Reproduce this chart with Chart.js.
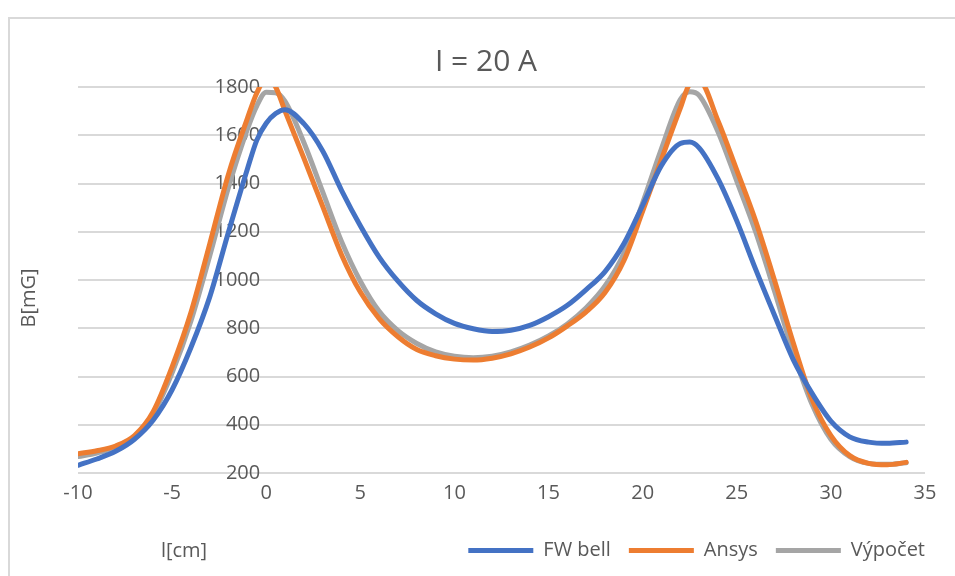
<!DOCTYPE html>
<html>
<head>
<meta charset="utf-8">
<script src="https://cdn.jsdelivr.net/npm/chart.js"></script>
<style>
  body { margin: 0; background: #fff; overflow: hidden; }
  #frame { position: absolute; left: 8px; top: 17px; width: 1000px; height: 700px; border: 2px solid #d9d9d9; }
  #wrap { position: absolute; left: 0; top: 0; width: 955px; height: 576px; }
</style>
</head>
<body>
<div id="frame"></div>
<div id="wrap"><canvas id="myChart" width="955" height="576"></canvas></div>
<script>
// l [cm]
var xs = [-10, -9, -8, -7, -6, -5, -4, -3, -2, -1, -0.5, 0, 0.5, 1, 2, 3, 4, 5, 6, 7, 8, 9, 10,
  11, 12, 13, 14, 15, 16, 17, 18, 19, 20, 21, 22, 22.5, 23, 24, 25, 26, 27, 28, 29, 30, 31, 32, 33, 34];

// B [mG]
var fwBell = [232, 258, 290, 340, 420, 545, 720, 930, 1200, 1460, 1580, 1650, 1690, 1706, 1648, 1535, 1372, 1225, 1095, 995, 915, 860, 820,
  798, 787, 792, 812, 848, 895, 960, 1035, 1150, 1310, 1475, 1566, 1572, 1548, 1420, 1245, 1045, 855, 670, 530, 415, 350, 328, 323, 328];
var ansys = [280, 292, 312, 355, 455, 640, 865, 1150, 1440, 1670, 1775, 1835, 1800, 1700, 1505, 1305, 1105, 950, 840, 765, 712, 686, 672,
  668, 676, 694, 722, 760, 810, 868, 948, 1080, 1285, 1500, 1712, 1812, 1825, 1660, 1455, 1245, 1000, 740, 505, 355, 272, 240, 234, 244];
var vypocet = [268, 283, 306, 350, 445, 615, 830, 1100, 1385, 1625, 1722, 1778, 1776, 1740, 1570, 1365, 1160, 995, 870, 790, 737, 702, 684,
  678, 684, 702, 730, 768, 818, 885, 975, 1110, 1320, 1545, 1748, 1780, 1765, 1615, 1410, 1200, 955, 700, 485, 340, 268, 240, 236, 242];

var seriesNames = ["FW bell", "Ansys", "Výpočet"];
var titleText = "I = 20 A";
var xTitle = "l[cm]";
var yTitle = "B[mG]";

function pts(vals) {
  return xs.map(function (x, i) { return {x: x, y: vals[i]}; });
}

var grey = "#595959";
var fnt = "'Open Sans', sans-serif";

const texts = {
  id: "texts",
  afterLayout(chart) {
    // legend ends flush with the plot's right edge
    var pad = chart.legend.options.labels.padding;
    chart.legend.left += pad;
    chart.legend.right += pad;
  },
  afterDraw(chart) {
    const ctx = chart.ctx;
    ctx.save();
    ctx.fillStyle = grey;
    ctx.textAlign = "center";
    ctx.textBaseline = "middle";
    ctx.font = "30px " + fnt;
    ctx.fillText(titleText, 486, 62);
    ctx.font = "20px " + fnt;
    ctx.fillText(xTitle, 184, 551);
    ctx.translate(29, 298);
    ctx.rotate(-Math.PI / 2);
    ctx.fillText(yTitle, 0, 0);
    ctx.restore();
  }
};

function line(label, data, color) {
  return {
    label: label,
    data: pts(data),
    borderColor: color,
    backgroundColor: color,
    borderWidth: 5,
    borderCapStyle: "round",
    borderJoinStyle: "round",
    pointRadius: 0,
    cubicInterpolationMode: "monotone",
    fill: false
  };
}

const chart = new Chart("myChart", {
  type: "line",
  data: {
    datasets: [
      line(seriesNames[0], fwBell, "#4472C4"),
      line(seriesNames[1], ansys, "#ED7D31"),
      line(seriesNames[2], vypocet, "#A5A5A5")
    ]
  },
  plugins: [texts],
  options: {
    responsive: false,
    animation: false,
    layout: { padding: { left: 78, right: 30, top: 87, bottom: 5.5 } },
    plugins: {
      title: { display: false },
      tooltip: { enabled: false },
      legend: {
        position: "bottom",
        align: "end",
        labels: {
          usePointStyle: true,
          pointStyle: "line",
          pointStyleWidth: 65,
          boxWidth: 65,
          padding: 18,
          color: grey,
          font: { family: fnt, size: 20 }
        }
      }
    },
    scales: {
      x: {
        type: "linear",
        min: -10,
        max: 35,
        grid: { display: false, drawTicks: false },
        border: { display: false },
        ticks: { stepSize: 5, padding: 8, color: grey, font: { family: fnt, size: 20 } },
        afterFit: function (s) { s.height = 49.5; }
      },
      y: {
        // value axis crosses just left of l = 0, labels sit against it
        position: { x: -0.32 },
        min: 200,
        max: 1800,
        grid: { color: "#d9d9d9", lineWidth: 2, drawTicks: false },
        border: { display: false },
        ticks: {
          stepSize: 200, padding: 8, color: grey, font: { family: fnt, size: 20 },
          callback: function (v) { return String(v); }
        }
      }
    }
  }
});
</script>
</body>
</html>
